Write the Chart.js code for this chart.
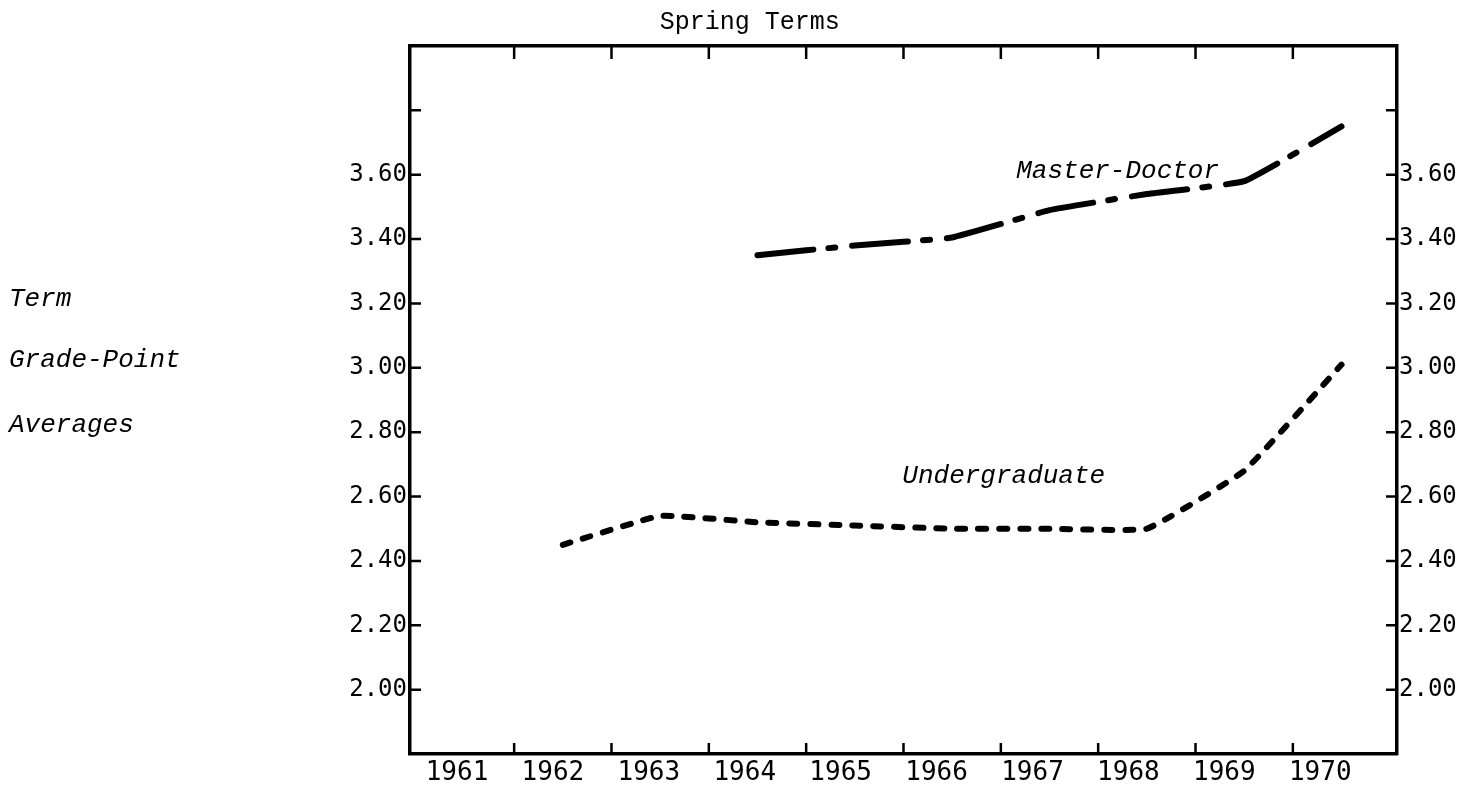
<!DOCTYPE html>
<html>
<head>
<meta charset="utf-8">
<title>Term Grade-Point Averages</title>
<script src="https://cdn.jsdelivr.net/npm/chart.js@4.4.1/dist/chart.umd.min.js"></script>
<style>
  html, body { margin: 0; padding: 0; background: #fff; }
  #wrap { width: 1480px; height: 795px; }
</style>
</head>
<body>
<div id="wrap"><canvas id="gpaChart" width="1480" height="795"></canvas></div>
<script>
/* ---------- DATA ---------- */
const years = [1961, 1962, 1963, 1964, 1965, 1966, 1967, 1968, 1969, 1970];
const undergradGPA = [null, 2.45, 2.54, 2.52, 2.51, 2.50, 2.50, 2.50, 2.68, 3.01];
const masterDoctorGPA = [null, null, null, 3.35, 3.38, 3.405, 3.49, 3.54, 3.58, 3.75];
const gpaTicks = [2.00, 2.20, 2.40, 2.60, 2.80, 3.00, 3.20, 3.40, 3.60, 3.80];
const labelledTicks = ["2.00", "2.20", "2.40", "2.60", "2.80", "3.00", "3.20", "3.40", "3.60"];
const chartTitle = "Spring Terms";
const yTitleLines = ["Term", "Grade-Point", "Averages"];
const seriesNames = ["Undergraduate", "Master-Doctor"];

const INK = "#000";
const TYPE = '"Liberation Mono", "DejaVu Sans Mono", monospace';
const GOTHIC = '"DejaVu Sans Mono", monospace';

function toPoints(values) {
  return years.map((y, i) => ({ x: y, y: values[i] })).filter(p => p.y !== null);
}

/* ---------- inward ticks + typed labels ---------- */
const paperMarks = {
  id: "paperMarks",
  afterDraw(chart) {
    const { ctx, chartArea: a, scales } = chart;
    const xs = scales.xt, ys = scales.y;
    ctx.save();
    ctx.strokeStyle = INK;
    ctx.lineWidth = 2.5;
    ctx.beginPath();
    gpaTicks.forEach(v => {
      const py = ys.getPixelForValue(v);
      ctx.moveTo(a.left, py); ctx.lineTo(a.left + 11, py);
      ctx.moveTo(a.right, py); ctx.lineTo(a.right - 11, py);
    });
    // year boundaries (half way between years)
    years.slice(0, -1).forEach(yr => {
      const px = xs.getPixelForValue(yr + 0.5);
      ctx.moveTo(px, a.top); ctx.lineTo(px, a.top + 13);
      ctx.moveTo(px, a.bottom); ctx.lineTo(px, a.bottom - 11);
    });
    ctx.stroke();

    ctx.fillStyle = INK;
    ctx.textBaseline = "middle";

    // title
    ctx.font = "25px " + TYPE;
    ctx.textAlign = "center";
    ctx.fillText(chartTitle, xs.getPixelForValue(1963.92), 22);

    // y axis title, typed at the far left
    ctx.font = "italic 26px " + TYPE;
    ctx.textAlign = "left";
    const titleVals = [3.215, 3.025, 2.823];
    yTitleLines.forEach((t, i) => ctx.fillText(t, 9, ys.getPixelForValue(titleVals[i])));

    // series names
    ctx.textAlign = "center";
    ctx.fillText(seriesNames[0], xs.getPixelForValue(1966.53), ys.getPixelForValue(2.665));
    ctx.fillText(seriesNames[1], xs.getPixelForValue(1967.70), ys.getPixelForValue(3.61));
    ctx.restore();
  }
};

/* ---------- CHART ---------- */
const yTickOpts = {
  font: { family: GOTHIC, size: 24 },
  color: INK,
  callback: v => labelledTicks.includes(Number(v).toFixed(2)) ? Number(v).toFixed(2) : ""
};

new Chart(document.getElementById("gpaChart"), {
  type: "line",
  data: {
    datasets: [
      {
        label: seriesNames[0],
        data: toPoints(undergradGPA),
        xAxisID: "xt",
        yAxisID: "y",
        borderColor: INK,
        borderWidth: 6,
        borderDash: [8, 13],
        borderCapStyle: "round",
        borderJoinStyle: "round",
        tension: 0.1,
        pointRadius: 0,
        fill: false
      },
      {
        label: seriesNames[1],
        data: toPoints(masterDoctorGPA),
        xAxisID: "xt",
        yAxisID: "y",
        borderColor: INK,
        borderWidth: 6,
        borderDash: [56, 15, 7, 17],
        borderCapStyle: "round",
        borderJoinStyle: "round",
        tension: 0.1,
        pointRadius: 0,
        fill: false
      }
    ]
  },
  options: {
    responsive: false,
    animation: false,
    devicePixelRatio: 1,
    layout: { padding: 0 },
    plugins: { legend: { display: false }, tooltip: { enabled: false }, title: { display: false } },
    scales: {
      xt: {
        type: "linear",
        position: "top",
        min: 1960.43,
        max: 1970.57,
        grid: { display: false, drawTicks: false },
        ticks: { display: false },
        border: { display: true, color: INK, width: 3.5 },
        afterFit(s) { s.height = 46; }
      },
      xb: {
        type: "linear",
        position: "bottom",
        min: 1960.51,
        max: 1970.80,
        grid: { display: false, drawTicks: false },
        border: { display: true, color: INK, width: 3.5 },
        afterBuildTicks(s) { s.ticks = years.map(v => ({ value: v })); },
        ticks: {
          font: { family: GOTHIC, size: 26 },
          color: INK,
          padding: 4,
          maxRotation: 0,
          autoSkip: false,
          callback: v => String(v)
        },
        afterFit(s) { s.height = 41; }
      },
      y: {
        type: "linear",
        position: "left",
        min: 1.8,
        max: 4.0,
        grid: { display: false, drawTicks: false },
        border: { display: true, color: INK, width: 3.5 },
        afterBuildTicks(s) { s.ticks = gpaTicks.map(v => ({ value: v })); },
        ticks: Object.assign({ padding: 3 }, yTickOpts),
        afterFit(s) { s.width = 410; }
      },
      y2: {
        type: "linear",
        position: "right",
        min: 1.8,
        max: 4.0,
        grid: { display: false, drawTicks: false },
        border: { display: true, color: INK, width: 3.5 },
        afterBuildTicks(s) { s.ticks = gpaTicks.map(v => ({ value: v })); },
        ticks: Object.assign({ padding: 2 }, yTickOpts),
        afterFit(s) { s.width = 83; }
      }
    }
  },
  plugins: [paperMarks]
});
</script>
</body>
</html>
